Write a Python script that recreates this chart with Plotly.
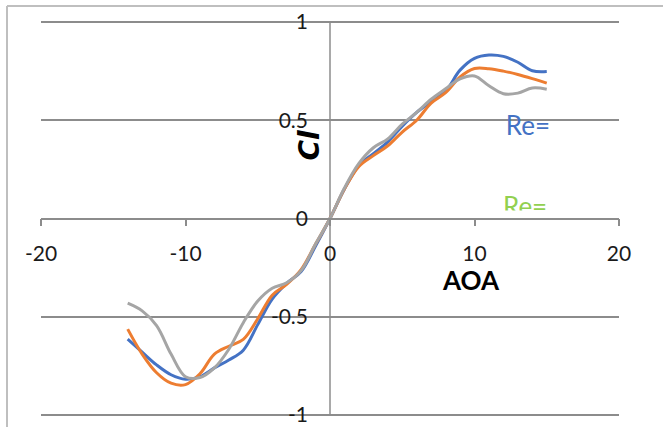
import plotly.graph_objects as go

# Angle of attack (degrees)
aoa = list(range(-14, 16))

# Lift coefficient for three Reynolds numbers
cl_blue = [-0.614, -0.68, -0.745, -0.795, -0.818, -0.805, -0.76, -0.72, -0.67, -0.54,
           -0.41, -0.33, -0.27, -0.14, 0.0, 0.15, 0.27, 0.33, 0.39, 0.47,
           0.54, 0.595, 0.648, 0.755, 0.815, 0.832, 0.825, 0.795, 0.752, 0.748]
cl_orange = [-0.563, -0.69, -0.785, -0.838, -0.845, -0.79, -0.69, -0.65, -0.615, -0.51,
             -0.39, -0.335, -0.26, -0.13, 0.0, 0.15, 0.265, 0.32, 0.37, 0.44,
             0.50, 0.587, 0.64, 0.72, 0.763, 0.762, 0.75, 0.733, 0.712, 0.689]
cl_gray = [-0.431, -0.47, -0.545, -0.69, -0.805, -0.809, -0.76, -0.665, -0.53, -0.42,
           -0.355, -0.327, -0.265, -0.13, 0.0, 0.155, 0.28, 0.36, 0.405, 0.48,
           0.54, 0.607, 0.66, 0.71, 0.725, 0.675, 0.635, 0.638, 0.664, 0.658]

x_ticks = [-20, -10, 0, 10, 20]
y_ticks = [-1, -0.5, 0, 0.5, 1]
y_tick_text = ["-1", "-0.5", "0", "0.5", "1"]

series = [
    (cl_blue, "#4472C4"),
    (cl_orange, "#ED7D31"),
    (cl_gray, "#A5A5A5"),
]

W, H = 663, 427
ML, MR, MT, MB = 41, 44, 20, 10
PW, PH = W - ML - MR, H - MT - MB

FONT = "Lato"
GRID = "#8C8C8C"
Y_PAD = 0.01  # keeps the gridlines at +/-1 inside the plot area

fig = go.Figure()
for vals, col in series:
    fig.add_trace(go.Scatter(
        x=aoa, y=vals, mode="lines",
        line=dict(color=col, width=3, shape="spline", smoothing=1.0),
        showlegend=False, hoverinfo="skip",
    ))

# Series labels
fig.add_trace(go.Scatter(
    x=[13.7, 13.5], y=[0.46, 0.045], mode="text",
    text=["Re=", "Re="],
    textfont=dict(family=FONT, size=26, color=["#4472C4", "#92D050"]),
    showlegend=False, hoverinfo="skip",
))


def px_x(p):
    return (p - ML) / PW


def px_y(p):
    return (H - MB - p) / PH


shapes = [
    # hide the lower part of the second label
    dict(type="rect", xref="x", yref="paper", x0=11.0, x1=16.0,
         y0=px_y(217), y1=px_y(210.5), fillcolor="white",
         line=dict(width=0), layer="above"),
    # chart area border
    dict(type="line", xref="paper", yref="paper", x0=px_x(7), x1=px_x(W + 5),
         y0=px_y(6), y1=px_y(6), line=dict(color="#BFBFBF", width=2)),
    dict(type="line", xref="paper", yref="paper", x0=px_x(7), x1=px_x(7),
         y0=px_y(6), y1=px_y(H + 5), line=dict(color="#BFBFBF", width=2)),
]

fig.update_layout(
    width=W, height=H,
    margin=dict(l=ML, r=MR, t=MT, b=MB, autoexpand=False),
    paper_bgcolor="white", plot_bgcolor="white",
    font=dict(family=FONT, color="#1A1A1A"),
    shapes=shapes,
    xaxis=dict(
        range=[-20, 20], tickvals=x_ticks, ticktext=[str(v) for v in x_ticks],
        anchor="free", position=0.5, automargin=False,
        showgrid=False, zeroline=False,
        showline=True, linecolor=GRID, linewidth=1.5,
        ticks="outside", ticklen=7, tickwidth=1.5, tickcolor=GRID,
        tickfont=dict(family=FONT, size=21, color="#1A1A1A"),
        ticklabelstandoff=10,
    ),
    yaxis=dict(
        range=[-1 - Y_PAD, 1 + Y_PAD], tickvals=y_ticks, ticktext=y_tick_text,
        anchor="free", position=0.5, automargin=False,
        showgrid=True, gridcolor=GRID, gridwidth=1.5,
        zeroline=True, zerolinecolor=GRID, zerolinewidth=1.5,
        showline=False,
        ticks="",
        tickfont=dict(family=FONT, size=21, color="#1A1A1A"),
        ticklabelstandoff=22,
    ),
    annotations=[
        dict(x=9.77, y=-0.315, xref="x", yref="y", text="<b>AOA</b>",
             showarrow=False, font=dict(family=FONT, size=26, color="#000000")),
        dict(x=-1.39, y=0.376, xref="x", yref="y", text="<b><i>Cl</i></b>",
             textangle=-90, showarrow=False,
             font=dict(family="DejaVu Sans", size=28, color="#000000")),
    ],
)

# vertical axis line through x = 0, spanning the full value range
fig.add_shape(type="line", xref="x", yref="y", x0=0, x1=0, y0=-1, y1=1,
              line=dict(color=GRID, width=1.5), layer="below")

fig.write_html("out.html")
